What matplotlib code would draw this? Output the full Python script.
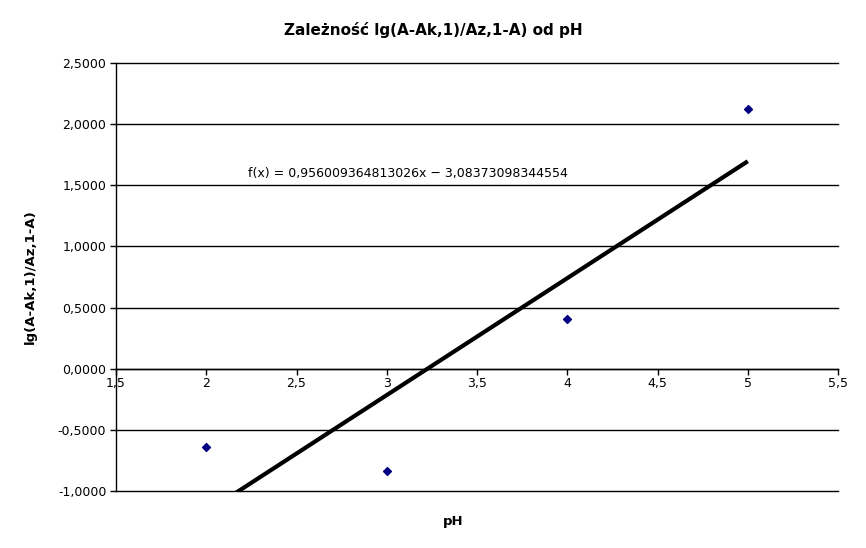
import numpy as np
import matplotlib.pyplot as plt
from matplotlib.ticker import FuncFormatter

# dane
ph = [2, 3, 4, 5]
lg_val = [-0.6433, -0.8392, 0.4057, 2.1260]
slope = 0.956009364813026
intercept = -3.08373098344554
eq_text = "f(x) = 0,956009364813026x \u2212 3,08373098344554"

W, H = 866, 548
fig = plt.figure(figsize=(W / 100, H / 100), dpi=100)
ax = fig.add_axes([116 / W, (H - 491) / H, 722 / W, 428 / H])

ax.set_xlim(1.5, 5.5)
ax.set_ylim(-1.0, 2.5)
ax.set_xticks(np.arange(1.5, 5.51, 0.5))
ax.set_yticks(np.arange(-1.0, 2.51, 0.5))
ax.yaxis.set_major_formatter(FuncFormatter(lambda v, p: f"{v:.4f}".replace(".", ",")))
ax.xaxis.set_major_formatter(FuncFormatter(lambda v, p: f"{v:g}".replace(".", ",")))

for s in ["top", "right"]:
    ax.spines[s].set_visible(False)
ax.spines["bottom"].set_position(("data", 0))
ax.spines["left"].set_linewidth(1)
ax.spines["bottom"].set_linewidth(1)
ax.tick_params(axis="both", direction="out", length=4, width=1, labelsize=9, pad=3)
ax.tick_params(axis="x", pad=2)

ax.yaxis.grid(True, color="black", linewidth=1)
for gl in ax.get_ygridlines():
    gl.set_clip_on(False)
ax.set_axisbelow(True)

xs = np.array([min(ph), max(ph)])
ax.plot(xs, slope * xs + intercept, color="black", linewidth=3, solid_capstyle="butt", zorder=3)
ax.scatter(ph, lg_val, marker="D", s=16, color="#000080", zorder=4)

ax.text(2.231, 1.60, eq_text, fontsize=9, ha="left", va="center")

fig.text(433 / W, 1 - 30 / H, "Zależność lg(A-Ak,1)/Az,1-A) od pH", ha="center", va="center",
         fontsize=11, fontweight="bold")
fig.text(453 / W, 1 - 521 / H, "pH", ha="center", va="center", fontsize=9.5, fontweight="bold")
fig.text(30 / W, 1 - 277 / H, "lg(A-Ak,1)/Az,1-A)", ha="center", va="center", rotation=90,
         fontsize=9.5, fontweight="bold")

fig.savefig("out.png", dpi=100)
